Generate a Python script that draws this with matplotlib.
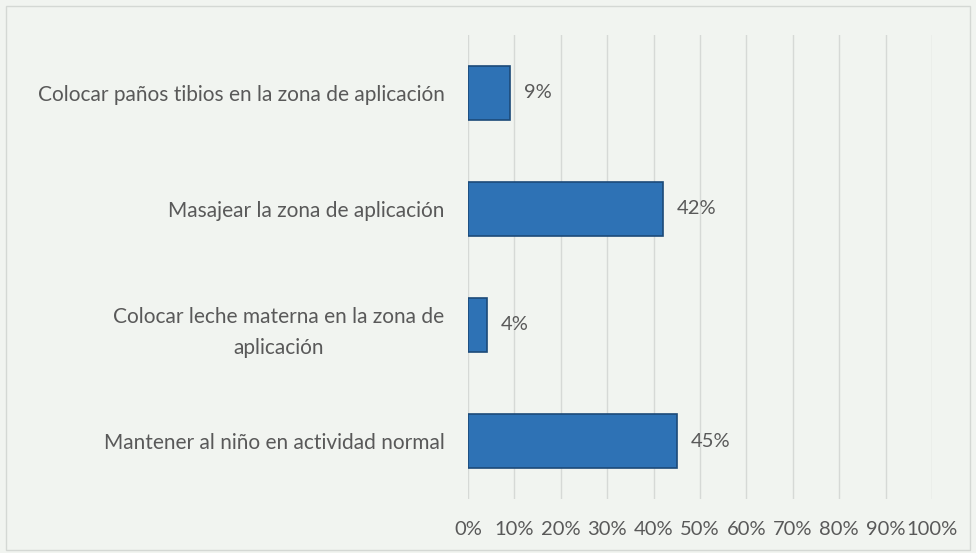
import matplotlib.pyplot as plt
from matplotlib.patches import Rectangle

categorias = ["Colocar paños tibios en la zona de aplicación",
              "Masajear la zona de aplicación",
              "Colocar leche materna en la zona de\naplicación",
              "Mantener al niño en actividad normal"]
valores = [9, 42, 4, 45]
ticks = list(range(0, 101, 10))
tick_labels = [f"{t}%" for t in ticks]

bg = "#f1f4f0"
fig = plt.figure(figsize=(9.76, 5.53), dpi=100, facecolor=bg)
ax = fig.add_axes([0.4795, 0.0976, 0.4755, 0.8394], facecolor=bg)

# marco exterior del grafico
fig.patches.append(Rectangle((0.006, 0.006), 0.988, 0.984, transform=fig.transFigure,
                             fill=False, edgecolor="#d4d8d4", linewidth=1))

pos = list(range(len(categorias)))
ax.barh(pos, valores, height=0.47, color="#2e72b5", edgecolor="#1c4a78",
        linewidth=1.2, zorder=3)

for p, v in zip(pos, valores):
    ax.text(v + 3.0, p, f"{v}%", va="center", ha="left", fontsize=14.5,
            color="#595959", family="Lato")

ax.set_xlim(0, 100)
ax.set_ylim(3.5, -0.5)
ax.set_xticks(ticks)
ax.set_xticklabels(tick_labels, fontsize=14.5, color="#595959", family="Lato")
ax.set_yticks(pos)
ax.set_yticklabels(categorias, fontsize=15, color="#595959", family="Lato",
                   multialignment="center", linespacing=1.7)
ax.tick_params(axis="both", length=0)
ax.tick_params(axis="y", pad=17)
ax.tick_params(axis="x", pad=16)
ax.grid(axis="x", color="#d6d9d6", linewidth=1, zorder=0)
for s in ax.spines.values():
    s.set_visible(False)

fig.savefig("out.png", dpi=100, facecolor=bg)
